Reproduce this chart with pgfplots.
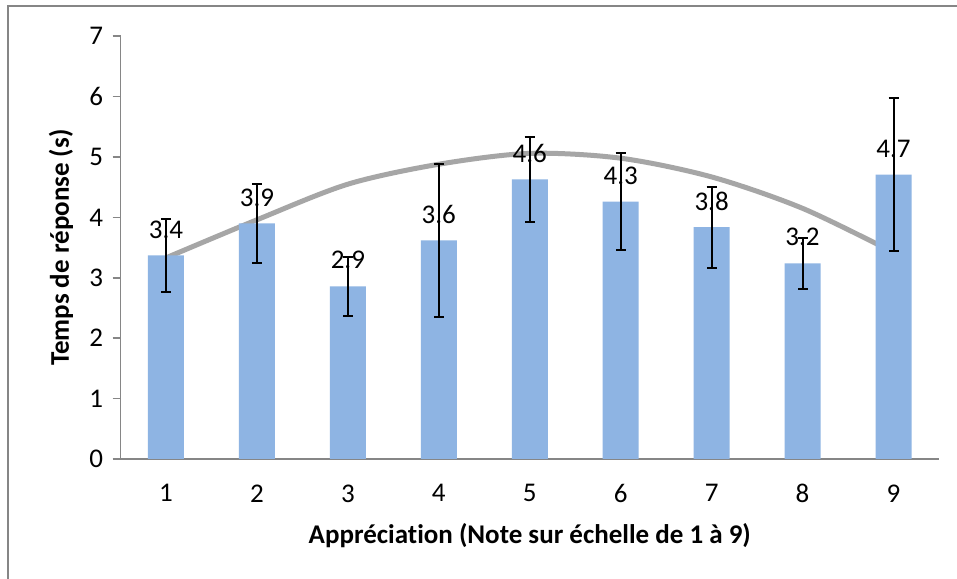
\documentclass[border=0pt]{standalone}
\usepackage{pgfplots}
\pgfplotsset{compat=1.18}
\usepackage{pgfplotstable}
\usepackage{fontspec}
\setmainfont[Ligatures={NoCommon}]{Carlito}
\definecolor{barblue}{RGB}{142,180,227}
\definecolor{axisgray}{RGB}{134,134,134}
\definecolor{trendgray}{RGB}{166,166,166}
\pgfplotstableread{
x y err lab
1 3.37 0.61 3.4
2 3.90 0.66 3.9
3 2.86 0.49 2.9
4 3.62 1.27 3.6
5 4.63 0.70 4.6
6 4.26 0.80 4.3
7 3.84 0.67 3.8
8 3.24 0.42 3.2
9 4.71 1.26 4.7
}\bardata
\pgfplotstableread{
x y
1 3.33
2 3.96
3 4.55
4 4.88
5 5.06
6 4.98
7 4.67
8 4.15
9 3.42
}\trenddata
\begin{document}
\begin{tikzpicture}
\useasboundingbox (0,0) rectangle (957bp,579bp);
\fill[white] (0,0) rectangle (957bp,579bp);
\draw[axisgray, line width=2bp] (8bp,0) -- (8bp,573bp) -- (957bp,573bp);
\begin{axis}[
  at={(120.5bp,120bp)}, anchor=south west,
  scale only axis, width=818.5bp, height=422.8bp,
  xmin=0.5, xmax=9.5, ymin=0, ymax=7,
  axis x line*=bottom, axis y line*=left,
  axis line style={axisgray, line width=1.6bp},
  every tick/.style={axisgray, line width=1.6bp},
  tick align=outside,
  major tick length=8bp,
  minor tick length=8bp,
  xtick={1,...,9},
  xticklabels={1,2,3,4,5,6,7,8,9},
  x tick style={draw=none},
  minor xtick={0.5,1.5,...,9.5},
  minor x tick style={axisgray, line width=1.6bp},
  ytick={0,...,7},
  /pgf/number format/assume math mode=true,
  font=\fontsize{27bp}{32bp}\selectfont,
  ticklabel style={font=\fontsize{27bp}{32bp}\selectfont, text=black},
  yticklabel style={xshift=-6bp},
  xticklabel style={yshift=-14bp},
  xlabel={\bfseries Appréciation (Note sur échelle de 1 à 9)},
  ylabel={\bfseries Temps de réponse (s)},
  xlabel style={at={(axis description cs:0.5,-0.182)}, anchor=center},
  ylabel style={at={(axis description cs:-0.0727,0.5)}, anchor=center},
  clip=false,
]
\addplot[trendgray, line width=5bp, smooth] table[x=x, y=y] {\trenddata};
\addplot[ybar, bar width=36bp, fill=barblue, draw=none,
  error bars/.cd, y dir=both, y explicit,
  error bar style={black, line width=2bp},
  error mark options={black, line width=2bp, rotate=90, mark size=5bp}]
  table[x=x, y=y, y error=err] {\bardata};
\addplot[only marks, mark=none,
  nodes near coords, point meta=explicit symbolic,
  every node near coord/.style={anchor=center, yshift=26bp, text=black, font=\fontsize{27bp}{32bp}\selectfont}]
  table[x=x, y=y, meta=lab] {\bardata};
\end{axis}
\end{tikzpicture}
\end{document}
